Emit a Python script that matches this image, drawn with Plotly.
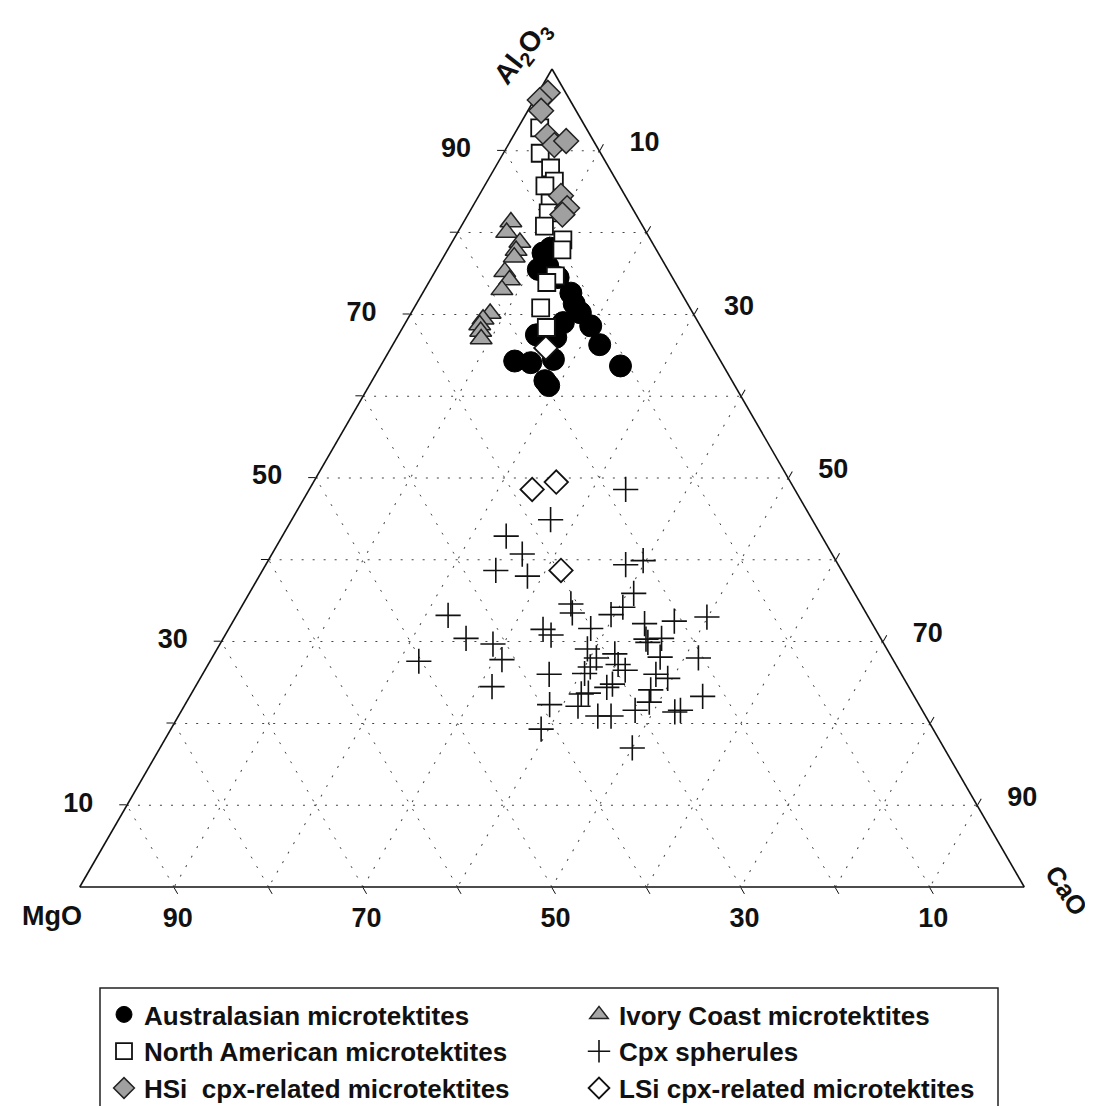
import plotly.graph_objects as go

# ---- data (wt%): Al2O3 (top), CaO (bottom-right); MgO = remainder ----
aus_al2o3 = [77.5, 78.1, 75.9, 74.5, 72.6, 71.3, 70.2, 69.0, 68.6, 66.3, 67.5, 64.3, 64.1, 64.5, 63.7, 61.9, 61.3, 75.5, 67.2]
aus_cao   = [10.3, 10.8, 11.6, 13.4, 15.7, 16.7, 17.9, 16.7, 19.8, 21.9, 14.6, 13.9, 15.7, 17.9, 25.4, 18.3, 19.0, 10.8, 16.8]

na_al2o3 = [92.8, 89.7, 87.9, 86.3, 85.7, 83.6, 82.4, 80.8, 79.1, 77.9, 74.7, 73.9, 70.8, 68.4]
na_cao   = [2.3, 3.9, 5.9, 7.1, 6.4, 8.0, 8.4, 8.8, 11.6, 12.1, 13.0, 12.5, 13.4, 15.2]

hsi_al2o3 = [97.1, 96.2, 94.9, 91.8, 90.7, 91.2, 84.5, 83.0, 82.2]
hsi_cao   = [1.0, 0.6, 1.4, 3.6, 4.9, 5.9, 8.7, 10.1, 10.0]

ic_al2o3 = [81.3, 80.0, 78.8, 77.8, 77.0, 75.2, 74.2, 73.0, 70.1, 69.4, 68.7, 67.9, 67.0]
ic_cao   = [5.0, 5.2, 7.2, 7.3, 7.5, 7.4, 8.4, 8.2, 8.4, 8.0, 8.0, 8.5, 9.0]

cpx_al2o3 = [48.6, 44.9, 42.9, 40.7, 38.7, 38.0, 39.4, 39.9, 35.9, 34.6, 33.5, 34.2, 33.3, 33.2,
             32.2, 32.5, 33.0, 31.5, 30.8, 31.6, 30.4, 29.7, 27.8, 27.6, 30.3, 29.9, 30.4, 29.1,
             28.0, 26.9, 26.1, 28.5, 27.2, 26.5, 28.1, 28.0, 26.0, 25.5, 26.0, 24.5, 23.6, 23.7,
             24.4, 24.8, 24.1, 23.3, 22.6, 22.3, 22.1, 21.6, 21.4, 21.6, 20.9, 20.9, 19.3, 17.0]
cpx_cao   = [33.5, 27.4, 23.7, 26.5, 24.7, 28.4, 38.1, 39.7, 40.7, 34.7, 35.4, 40.4, 39.6, 22.4,
             43.7, 46.7, 49.9, 33.3, 34.5, 38.3, 25.7, 28.9, 30.8, 22.1, 44.8, 45.2, 46.4, 39.2,
             40.7, 40.6, 40.4, 42.4, 43.4, 44.5, 47.4, 51.5, 48.0, 49.5, 36.7, 31.4, 41.3, 42.0,
             43.6, 44.0, 48.4, 54.3, 49.0, 38.6, 41.7, 48.0, 52.3, 52.8, 44.4, 45.8, 39.2, 50.0]

lsi_al2o3 = [48.6, 49.5, 38.7, 65.9]
lsi_cao   = [23.6, 25.7, 31.6, 16.4]

tick_vals = [10, 20, 30, 40, 50, 60, 70, 80, 90]
tick_text = ["10", "", "30", "", "50", "", "70", "", "90"]

FONT = "Liberation Sans, Arial, sans-serif"
W, H = 1093, 1106
NB = "\u00a0"


def mgo(al, ca):
    return [round(100 - a - c, 1) for a, c in zip(al, ca)]


def px(x):
    return x / W


def py(y):
    return 1 - y / H


fig = go.Figure()

series = [
    ("Australasian microtektites", aus_al2o3, aus_cao,
     dict(symbol="circle", size=22, color="black", line=dict(color="black", width=1))),
    ("Ivory Coast microtektites", ic_al2o3, ic_cao,
     dict(symbol="triangle-up", size=19, color="#a6a6a6", line=dict(color="#222222", width=1.5))),
    ("North American microtektites", na_al2o3, na_cao,
     dict(symbol="square", size=17, color="white", line=dict(color="#111111", width=1.8))),
    ("Cpx spherules", cpx_al2o3, cpx_cao,
     dict(symbol="cross-thin-open", size=18, color="#111111", line=dict(color="#111111", width=1.6))),
    ("HSi  cpx-related microtektites", hsi_al2o3, hsi_cao,
     dict(symbol="diamond", size=19, color="#a0a0a0", line=dict(color="#222222", width=1.5))),
    ("LSi cpx-related microtektites", lsi_al2o3, lsi_cao,
     dict(symbol="diamond", size=18, color="white", line=dict(color="#111111", width=1.8))),
]

for name, al, ca, mk in series:
    fig.add_trace(go.Scatterternary(
        a=al, b=mgo(al, ca), c=ca, mode="markers", name=name, marker=mk,
        cliponaxis=False,
    ))


def axis(texts):
    return dict(
        title=dict(text=""), min=0,
        tickmode="array", tickvals=tick_vals, ticktext=texts,
        ticks="outside", ticklen=7, tickwidth=1.2, tickcolor="#111111",
        tickfont=dict(family=FONT, size=27, color="#111111", weight="bold"),
        linecolor="#111111", linewidth=1.6, showline=True,
        showgrid=True, gridcolor="#444444", gridwidth=1.4, griddash="2px,9px",
        layer="below traces",
    )


a_text = [t + NB * 3 if t else t for t in tick_text]
c_text = [NB * 3 + t if t else t for t in tick_text]

fig.update_layout(
    width=W, height=H,
    margin=dict(l=0, r=0, t=0, b=0, autoexpand=False),
    paper_bgcolor="white",
    ternary=dict(
        sum=100,
        domain=dict(x=[px(71), px(1017)], y=[py(879), py(61)]),
        bgcolor="white",
        aaxis=axis(a_text), baxis=axis(tick_text), caxis=axis(c_text),
    ),
    showlegend=True,
    legend=dict(
        orientation="h", x=px(96), y=py(983), xanchor="left", yanchor="top",
        entrywidth=430, entrywidthmode="pixels",
        borderwidth=0, bgcolor="rgba(0,0,0,0)",
        font=dict(family=FONT, size=26, color="#111111", weight="bold"),
        itemsizing="trace",
    ),
    shapes=[
        dict(type="rect", xref="paper", yref="paper",
             x0=px(92), x1=px(990), y0=py(1112), y1=py(980),
             line=dict(color="#222222", width=1.5), fillcolor="rgba(0,0,0,0)", layer="below"),
    ],
    annotations=[
        dict(text="Al<sub>2</sub>O<sub>3</sub>", x=px(515), y=py(45), xref="paper", yref="paper",
             xanchor="center", yanchor="middle",
             showarrow=False, textangle=-52, font=dict(family=FONT, size=28, color="#111111", weight="bold")),
        dict(text="CaO", x=px(1058), y=py(882), xref="paper", yref="paper",
             xanchor="center", yanchor="middle",
             showarrow=False, textangle=56, font=dict(family=FONT, size=26, color="#111111", weight="bold")),
        dict(text="MgO", x=px(44), y=py(908), xref="paper", yref="paper",
             xanchor="center", yanchor="middle",
             showarrow=False, font=dict(family=FONT, size=27, color="#111111", weight="bold")),
    ],
)

fig.write_html("out.html")
